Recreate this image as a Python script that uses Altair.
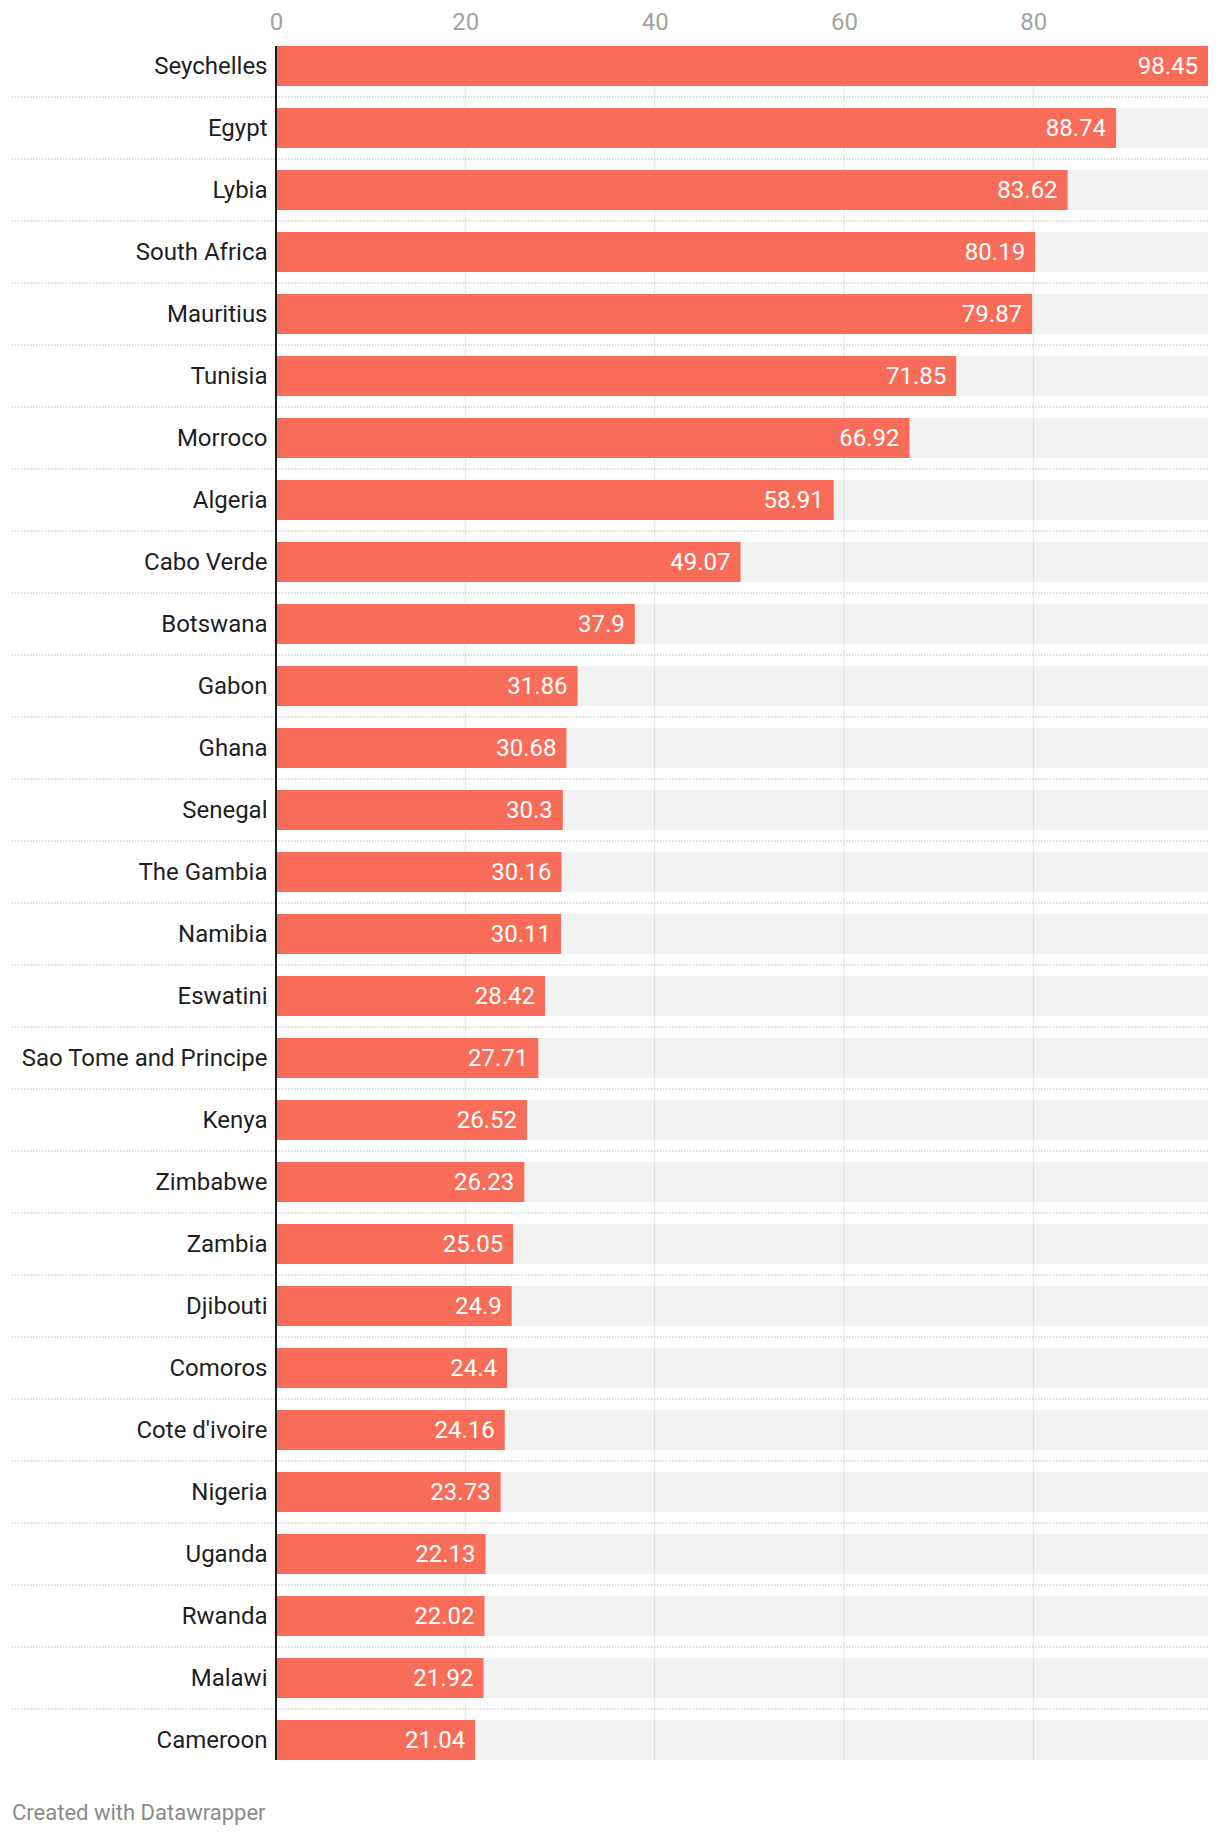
import altair as alt
import pandas as pd

countries = ["Seychelles", "Egypt", "Lybia", "South Africa", "Mauritius", "Tunisia",
             "Morroco", "Algeria", "Cabo Verde", "Botswana", "Gabon", "Ghana", "Senegal",
             "The Gambia", "Namibia", "Eswatini", "Sao Tome and Principe", "Kenya",
             "Zimbabwe", "Zambia", "Djibouti", "Comoros", "Cote d'ivoire", "Nigeria",
             "Uganda", "Rwanda", "Malawi", "Cameroon"]
values = [98.45, 88.74, 83.62, 80.19, 79.87, 71.85, 66.92, 58.91, 49.07, 37.9, 31.86,
          30.68, 30.3, 30.16, 30.11, 28.42, 27.71, 26.52, 26.23, 25.05, 24.9, 24.4,
          24.16, 23.73, 22.13, 22.02, 21.92, 21.04]
labels = [str(v) for v in values]
grid_values = [20, 40, 60, 80]
axis_values = [0, 20, 40, 60, 80]
footer = "Created with Datawrapper"

# layout constants
W = 932
STEP = 62
N = len(countries)
H = STEP * N
P_IN = 22 / 62
P_OUT = P_IN / 2
OUTER_PX = STEP * P_OUT
LABEL_LEFT = -264

FONT = "Roboto"
RED = "#f76d5a"

df = pd.DataFrame({"country": countries, "value": values, "label": labels})
sep_df = pd.DataFrame({"country": countries[1:]})
grid_df = pd.DataFrame({"value": grid_values})
zero_df = pd.DataFrame({"value": [0]})
foot_df = pd.DataFrame({"t": [footer]})

xmax = max(values)
xscale = alt.Scale(domain=[0, xmax], nice=False, zero=True)
yscale = alt.Scale(domain=countries, paddingInner=P_IN, paddingOuter=P_OUT)

x_axis = alt.Axis(orient="top", values=axis_values, grid=False, domain=False,
                  ticks=False, tickSize=0, labelPadding=6, labelFlush=False,
                  labelBaseline="alphabetic",
                  labelFontSize=24, labelColor="#a3a3a3", labelFont=FONT,
                  title=None)
y_axis = alt.Axis(domain=False, ticks=False, tickSize=0, grid=False,
                  labelPadding=9, labelLimit=400, labelFontSize=24, labelOffset=1,
                  labelColor="#1f1f1f", labelFont=FONT, title=None)

X = lambda f: alt.X(f, scale=xscale, axis=x_axis, title=None)
Y = lambda: alt.Y("country:N", scale=yscale, sort=countries, axis=y_axis, title=None)

bg = alt.Chart(df).transform_joinaggregate(
    bg="max(value)"
).mark_bar(color="#f2f2f2").encode(
    x=X("bg:Q"),
    y=Y(),
)

grid = alt.Chart(grid_df).mark_rule(color="black", opacity=0.1, strokeWidth=1).encode(
    x=X("value:Q"),
    y=alt.value(OUTER_PX),
    y2=alt.value(H - OUTER_PX),
)

bars = alt.Chart(df).mark_bar(color=RED).encode(
    x=X("value:Q"),
    y=Y(),
)

text = alt.Chart(df).mark_text(align="right", baseline="middle", dx=-10, dy=1,
                               color="white", fontSize=24, font=FONT).encode(
    x=X("value:Q"),
    y=Y(),
    text="label:N",
)

seps = alt.Chart(sep_df).mark_rule(color="#b8b8b8", strokeWidth=1,
                                   strokeDash=[1.5, 1.5], yOffset=-STEP / 2).encode(
    y=Y(),
    x=alt.value(LABEL_LEFT),
    x2=alt.value(W),
)

zero = alt.Chart(zero_df).mark_rule(color="#1d1d1d", strokeWidth=2).encode(
    x=X("value:Q"),
    y=alt.value(OUTER_PX),
    y2=alt.value(H - OUTER_PX),
)

foot = alt.Chart(foot_df).mark_text(align="left", baseline="alphabetic", fontSize=22,
                                    font=FONT, color="#8a8a8a").encode(
    x=alt.value(LABEL_LEFT),
    y=alt.value(H + 49),
    text="t:N",
)

chart = alt.layer(bg, grid, seps, bars, text, zero, foot).properties(
    width=W, height=H,
    autosize=alt.AutoSizeParams(type="none"),
    padding={"left": 268, "top": 27, "right": 4, "bottom": 60},
    background="white",
).configure_view(stroke=None)

chart.save("out.html", embed_options={"renderer": "svg", "actions": False})
